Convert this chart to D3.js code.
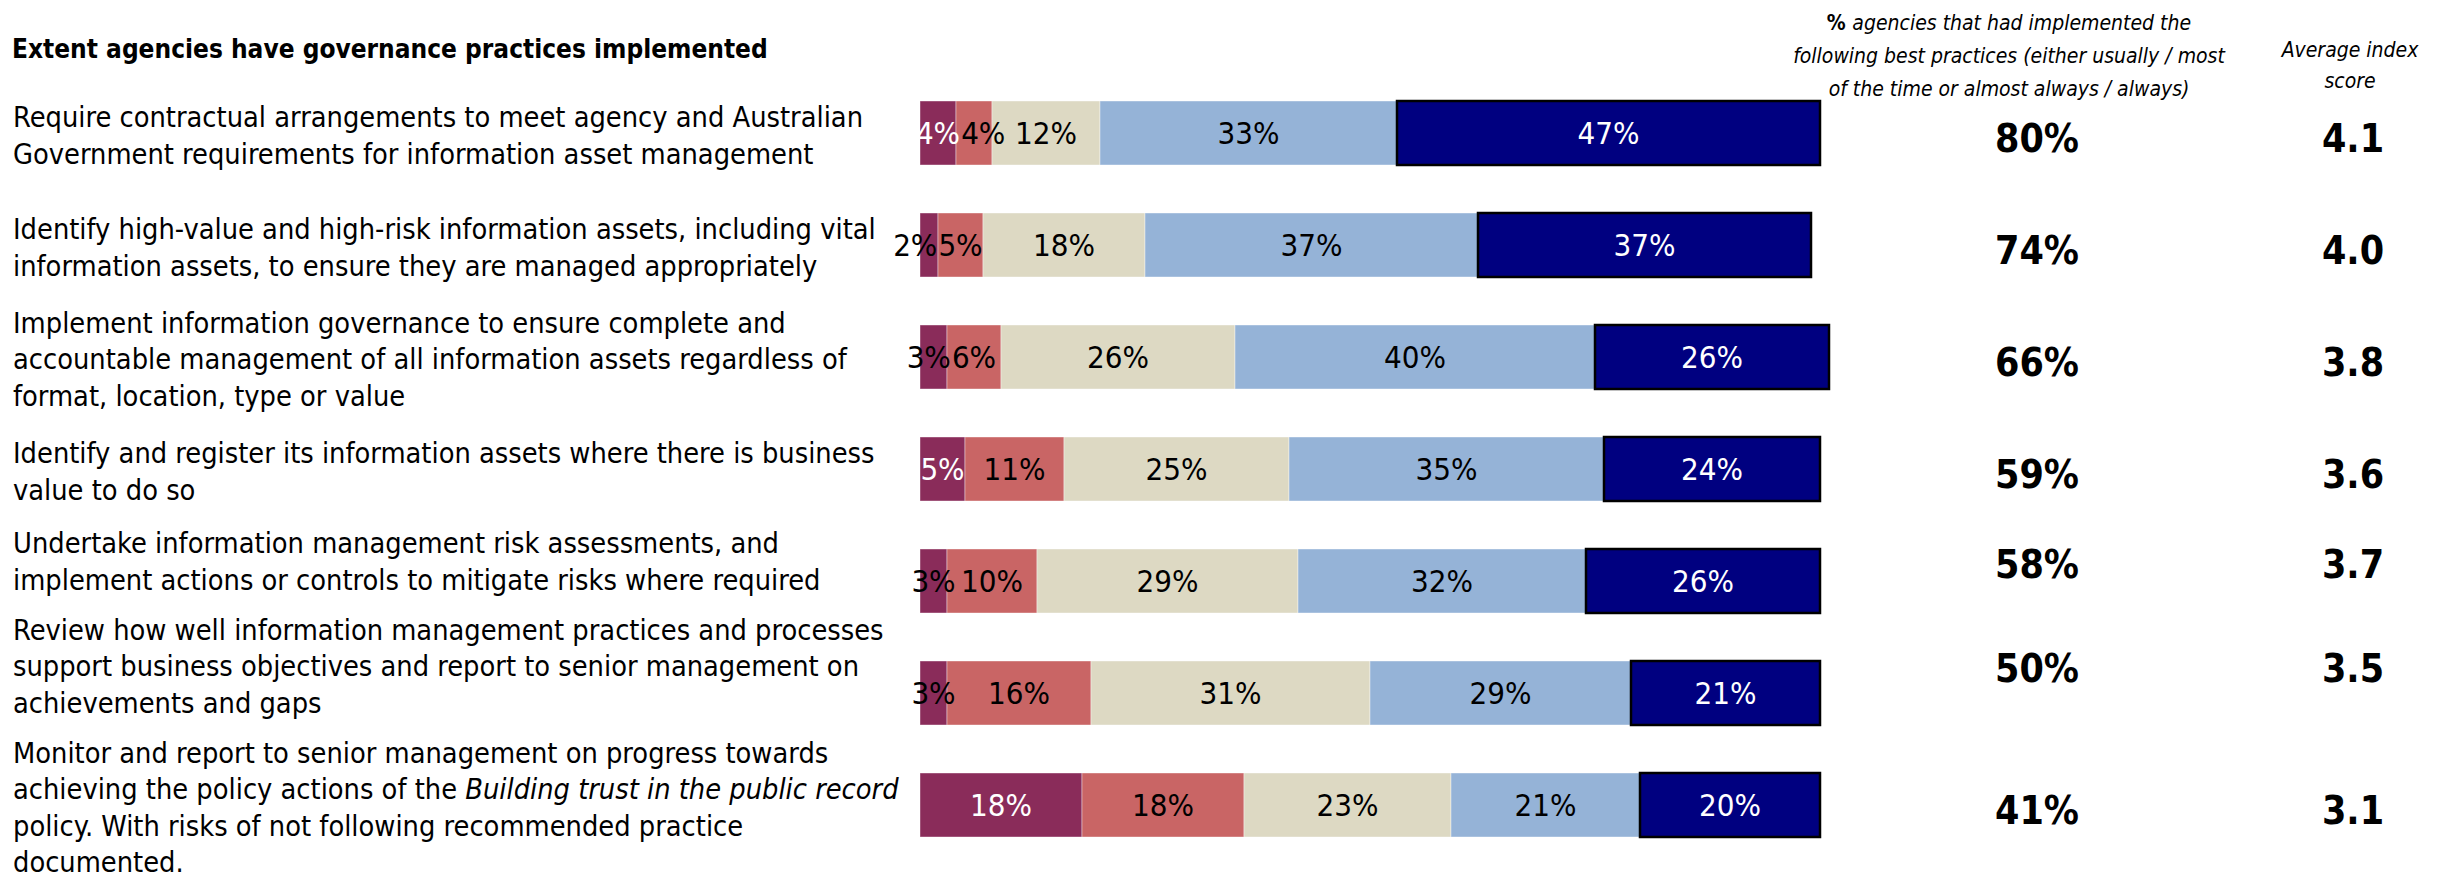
<!DOCTYPE html>
<html>
<head>
<meta charset="utf-8">
<script src="https://cdn.jsdelivr.net/npm/d3@7"></script>
<style>
  body { margin: 0; background: #fff; }
  svg text { font-family: "DejaVu Sans Condensed", "Liberation Sans", sans-serif; fill: #000; }
</style>
</head>
<body>
<svg id="chart" width="2456" height="879"></svg>
<script>
// practice labels, already broken into lines as in the source; _text_ is italic
const practices = [
    ["Require contractual arrangements to meet agency and Australian",
     "Government requirements for information asset management"],
    ["Identify high-value and high-risk information assets, including vital",
     "information assets, to ensure they are managed appropriately"],
    ["Implement information governance to ensure complete and",
     "accountable management of all information assets regardless of",
     "format, location, type or value"],
    ["Identify and register its information assets where there is business",
     "value to do so"],
    ["Undertake information management risk assessments, and",
     "implement actions or controls to mitigate risks where required"],
    ["Review how well information management practices and processes",
     "support business objectives and report to senior management on",
     "achievements and gaps"],
    ["Monitor and report to senior management on progress towards",
     "achieving the policy actions of the _Building trust in the public record_",
     "policy. With risks of not following recommended practice",
     "documented."]
];

const seriesKeys = ["never", "rarely", "sometimes", "usually", "always"];
const never     = [4, 2, 3, 5, 3, 3, 18];
const rarely    = [4, 5, 6, 11, 10, 16, 18];
const sometimes = [12, 18, 26, 25, 29, 31, 23];
const usually   = [33, 37, 40, 35, 32, 29, 21];
const always    = [47, 37, 26, 24, 26, 21, 20];

const implementedPct = [80, 74, 66, 59, 58, 50, 41];
const indexScore = [4.1, 4.0, 3.8, 3.6, 3.7, 3.5, 3.1];

const title = "Extent agencies have governance practices implemented";
const pctHeader = ["agencies that had implemented the",
                   "following best practices (either usually / most",
                   "of the time or almost always / always)"];
const scoreHeader = ["Average index", "score"];

const colors = {
    never: "#8a2c5a",
    rarely: "#c96565",
    sometimes: "#ddd9c3",
    usually: "#95b3d7",
    always: "#000080"
};

const rows = practices.map((p, i) => ({
    idx: i, never: never[i], rarely: rarely[i], sometimes: sometimes[i],
    usually: usually[i], always: always[i]
}));

const svg = d3.select("#chart");

const x = d3.scaleLinear().domain([0, 100]).range([920, 1820]);
const y = d3.scaleBand()
    .domain(d3.range(practices.length))
    .range([77, 861])
    .paddingInner(0.4286)
    .paddingOuter(0.2143);

const stack = d3.stack().keys(seriesKeys)(rows);

function labelColor(key, v) {
    if (key === "always") return "#fff";
    if (key === "never" && v >= 4) return "#fff";
    return "#000";
}

// title
svg.append("text")
    .attr("x", 12).attr("y", 58)
    .style("font-size", "26px").style("font-weight", "bold")
    .text(title);

// row label blocks: centred on their bar, pushed up when they would crowd the block below
const lineH = 36.5, blockGap = 50;
const blocks = practices.map((lines, i) => {
    const mid = y(i) + y.bandwidth() / 2 + 3;
    return { lines, first: mid - (lines.length - 1) * lineH / 2 };
});
for (let i = blocks.length - 2; i >= 0; i--) {
    const b = blocks[i];
    const last = b.first + (b.lines.length - 1) * lineH;
    const limit = blocks[i + 1].first - blockGap;
    if (last > limit) b.first -= last - limit;
}
blocks.forEach(b => { b.mid = b.first + (b.lines.length - 1) * lineH / 2; });

blocks.forEach(b => {
    const t = svg.append("text").style("font-size", "28.7px");
    b.lines.forEach((ln, j) => {
        ln.split("_").forEach((part, k) => {
            if (!part) return;
            const ts = t.append("tspan").text(part);
            if (k === 0) ts.attr("x", 13).attr("y", b.first + j * lineH).attr("dy", "0.33em");
            if (k % 2 === 1) ts.style("font-style", "italic");
        });
    });
});

// bars
const layers = svg.append("g").selectAll("g")
    .data(stack)
    .join("g")
    .attr("fill", d => colors[d.key]);

layers.selectAll("rect")
    .data(d => d.map(s => ({ key: d.key, s })))
    .join("rect")
    .attr("x", d => x(d.s[0]))
    .attr("y", d => y(d.s.data.idx))
    .attr("width", d => x(d.s[1]) - x(d.s[0]))
    .attr("height", y.bandwidth())
    .attr("stroke", d => d.key === "always" ? "#000" : "#fff")
    .attr("stroke-width", d => d.key === "always" ? 2.5 : 0.8)
    .attr("stroke-opacity", d => d.key === "always" ? 1 : 0.5);

// segment labels
const labelG = svg.append("g");
const labelNodes = [];
stack.forEach((layer, li) => {
    layer.forEach(s => {
        const v = s[1] - s[0];
        const t = labelG.append("text")
            .attr("x", x((s[0] + s[1]) / 2))
            .attr("y", y(s.data.idx) + y.bandwidth() / 2)
            .attr("text-anchor", "middle")
            .attr("dominant-baseline", "central")
            .style("font-size", "31px")
            .style("fill", labelColor(layer.key, v))
            .text(v + "%");
        t.datum({ dark: labelColor(layer.key, v) === "#000" });
        (labelNodes[s.data.idx] = labelNodes[s.data.idx] || [])[li] = t;
    });
});

function nudge(sel, dx) { sel.attr("x", +sel.attr("x") + dx); }

labelNodes.forEach(list => {
    // white labels stay on their segment and push the next label right
    for (let i = 0; i < list.length - 1; i++) {
        if (list[i].datum().dark) continue;
        const cb = list[i].node().getBBox(), nb = list[i + 1].node().getBBox();
        const over = cb.x + cb.width + 1 - nb.x;
        if (over > 0) nudge(list[i + 1], over);
    }
    // dark labels of thin segments slide left out of the bar
    for (let i = list.length - 2; i >= 0; i--) {
        if (!list[i].datum().dark) continue;
        const cb = list[i].node().getBBox(), nb = list[i + 1].node().getBBox();
        const over = cb.x + cb.width + 1 - nb.x;
        if (over > 0) nudge(list[i], -over);
    }
});

// right-hand columns
const pctX = 2037, scoreX = 2353;
const h1 = svg.append("text").attr("text-anchor", "middle")
    .style("font-size", "21px").style("font-style", "italic");
h1.append("tspan").attr("x", 2009).attr("y", 30)
    .style("font-weight", "bold").style("font-style", "normal").text("% ");
h1.append("tspan").text(pctHeader[0]);
pctHeader.slice(1).forEach((ln, j) => {
    h1.append("tspan").attr("x", 2009).attr("y", 30 + (j + 1) * 33).text(ln);
});

const h2 = svg.append("text").attr("text-anchor", "middle")
    .style("font-size", "21px").style("font-style", "italic");
scoreHeader.forEach((ln, j) => {
    h2.append("tspan").attr("x", 2350).attr("y", 57 + j * 31).text(ln);
});

svg.append("g").selectAll("text")
    .data(implementedPct)
    .join("text")
    .attr("x", pctX)
    .attr("y", (d, i) => blocks[i].mid + 2)
    .attr("text-anchor", "middle")
    .attr("dominant-baseline", "central")
    .style("font-size", "39px").style("font-weight", "bold")
    .text(d => d + "%");

svg.append("g").selectAll("text")
    .data(indexScore)
    .join("text")
    .attr("x", scoreX)
    .attr("y", (d, i) => blocks[i].mid + 2)
    .attr("text-anchor", "middle")
    .attr("dominant-baseline", "central")
    .style("font-size", "39px").style("font-weight", "bold")
    .text(d => d3.format(".1f")(d));
</script>
</body>
</html>
